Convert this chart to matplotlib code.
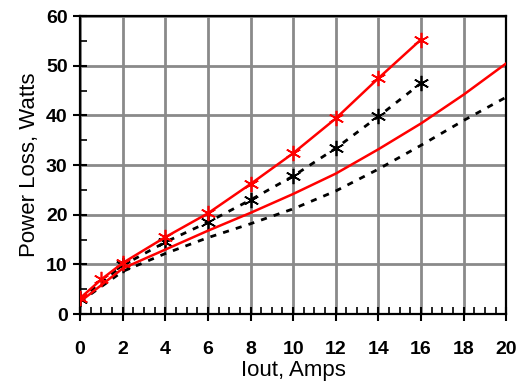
import matplotlib.pyplot as plt
from matplotlib import font_manager
from matplotlib.ticker import MultipleLocator

# readings (Iout in Amps, power loss in Watts)
x_meas = [0, 1, 2, 4, 6, 8, 10, 12, 14, 16]
red_meas = [3.2, 7.0, 10.3, 15.5, 20.3, 26.2, 32.4, 39.4, 47.5, 55.3]

x_blk = [0, 2, 4, 6, 8, 10, 12, 14, 16]
blk_meas = [3.0, 9.8, 14.5, 18.5, 23.0, 27.8, 33.4, 39.8, 46.5]

x_calc = [0, 2, 4, 6, 8, 10, 12, 14, 16, 18, 20]
red_calc = [2.5, 9.2, 13.0, 16.8, 20.4, 24.2, 28.3, 33.2, 38.4, 44.2, 50.5]
blk_calc = [2.5, 8.6, 12.2, 15.4, 18.2, 21.2, 24.8, 29.2, 34.0, 39.0, 43.7]

names = {f.name for f in font_manager.fontManager.ttflist}
tick_family = 'Liberation Sans Narrow' if 'Liberation Sans Narrow' in names else 'Liberation Sans'
print(tick_family)

plt.rcParams['font.family'] = ['Liberation Sans', 'DejaVu Sans']

fig = plt.figure(figsize=(5.23, 3.85), dpi=100)
ax = fig.add_axes([0.153, 0.184, 0.815, 0.774])

star = (6, 2, 0)
dots = (0, (2.2, 2.6))

ax.plot(x_calc, blk_calc, color='black', lw=2, linestyle=dots, zorder=3)
ax.plot(x_blk, blk_meas, color='black', lw=2, linestyle=dots,
        marker=star, markersize=11, mew=1.2, zorder=3)
ax.plot(x_calc, red_calc, color='#ff0000', lw=1.8, zorder=4)
ax.plot(x_meas, red_meas, color='#ff0000', lw=1.8,
        marker=star, markersize=11, mew=1.2, zorder=4)

ax.set_xlim(0, 20)
ax.set_ylim(0, 60)
ax.xaxis.set_major_locator(MultipleLocator(2))
ax.xaxis.set_minor_locator(MultipleLocator(0.5))
ax.yaxis.set_major_locator(MultipleLocator(10))
ax.yaxis.set_minor_locator(MultipleLocator(5))

ax.grid(True, which='major', color='#8a8a8a', lw=2)
ax.set_axisbelow(True)
for s in ax.spines.values():
    s.set_linewidth(1.6)
    s.set_color('black')

ax.tick_params(which='major', direction='inout', length=10, width=1.5, color='black')
ax.tick_params(which='minor', direction='in', length=5, width=1.2, color='black')
ax.tick_params(axis='x', which='major', pad=14)
ax.tick_params(axis='y', which='major', pad=4)

for lab in ax.get_xticklabels() + ax.get_yticklabels():
    lab.set_family(tick_family)
    lab.set_fontweight('bold')
    lab.set_fontsize(14)

ax.set_xlabel('Iout, Amps', fontsize=16, labelpad=2)
ax.set_ylabel('Power Loss, Watts', fontsize=16, labelpad=4)

fig.savefig('out.png', dpi=100)
